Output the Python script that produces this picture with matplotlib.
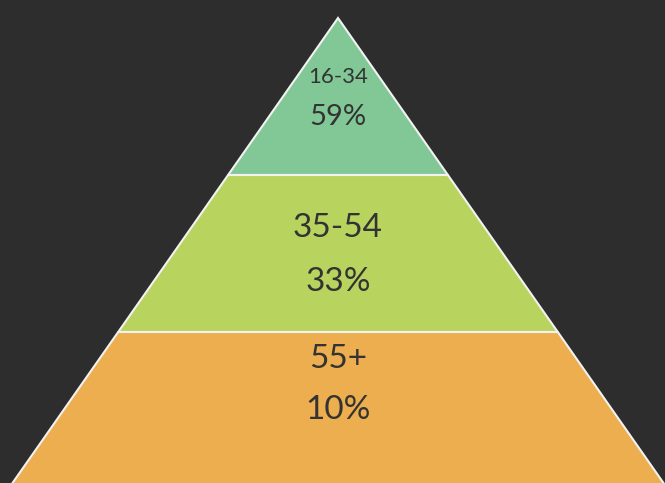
import matplotlib
matplotlib.use("Agg")
import matplotlib.pyplot as plt
from matplotlib.patches import Polygon

groups = ["16-34", "35-54", "55+"]
shares = [59, 33, 10]
colors = ["#82c896", "#b8d45e", "#ecae4e"]
label_sizes = [16, 24, 24]
value_sizes = [21, 24, 24]
label_y = [77, 228, 359]
value_y = [117, 282, 410]

W, H = 665, 483
fig = plt.figure(figsize=(W / 100, H / 100), dpi=100)
fig.patch.set_facecolor("#2d2d2d")
ax = fig.add_axes([0, 0, 1, 1])
ax.set_facecolor("#2d2d2d")
ax.set_xlim(0, W)
ax.set_ylim(H, 0)
ax.axis("off")

apex_x, apex_y = 338, 18
layer_h = 157
slope = 0.70
fam = ["Lato", "DejaVu Sans"]

for i, (g, s) in enumerate(zip(groups, shares)):
    y0 = apex_y + i * layer_h
    y1 = y0 + layer_h
    hw0 = slope * (y0 - apex_y)
    hw1 = slope * (y1 - apex_y)
    pts = [(apex_x - hw0, y0), (apex_x + hw0, y0), (apex_x + hw1, y1), (apex_x - hw1, y1)]
    ax.add_patch(Polygon(pts, closed=True, facecolor=colors[i], edgecolor="#f2f2f2",
                         linewidth=1.5, joinstyle="miter"))
    ax.text(apex_x, label_y[i], g, ha="center", va="center", fontsize=label_sizes[i],
            color="#333333", family=fam)
    ax.text(apex_x, value_y[i], f"{s}%", ha="center", va="center", fontsize=value_sizes[i],
            color="#333333", family=fam)

fig.savefig("out.png", dpi=100, facecolor=fig.get_facecolor())
